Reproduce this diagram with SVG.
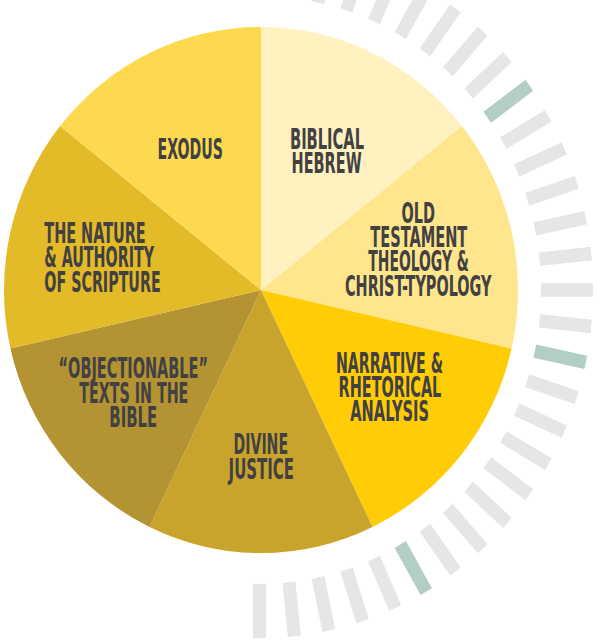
<svg xmlns="http://www.w3.org/2000/svg" width="600" height="640" viewBox="0 0 600 640">
<style>
.lbl{font-family:"Liberation Sans Narrow","DejaVu Sans Condensed","Liberation Sans",sans-serif;font-weight:bold;font-size:28px;fill:#414042}
.tk{fill:#E5E6E7}
.tt{fill:#B2CEC6}
</style>
<defs>
<rect id="tick" x="281.5" y="-6.5" width="52" height="13"/>
</defs>
<rect width="600" height="640" fill="#FFFFFF"/>
<g id="ticks" transform="translate(259.5,290) scale(1,1.044)">
<use href="#tick" class="tk" transform="rotate(-78)"/>
<use href="#tick" class="tk" transform="rotate(-72)"/>
<use href="#tick" class="tk" transform="rotate(-66)"/>
<use href="#tick" class="tk" transform="rotate(-60)"/>
<use href="#tick" class="tk" transform="rotate(-54)"/>
<use href="#tick" class="tk" transform="rotate(-48)"/>
<use href="#tick" class="tk" transform="rotate(-42)"/>
<use href="#tick" class="tt" transform="rotate(-36)"/>
<use href="#tick" class="tk" transform="rotate(-30)"/>
<use href="#tick" class="tk" transform="rotate(-24)"/>
<use href="#tick" class="tk" transform="rotate(-18)"/>
<use href="#tick" class="tk" transform="rotate(-12)"/>
<use href="#tick" class="tk" transform="rotate(-6)"/>
<use href="#tick" class="tk" transform="rotate(0)"/>
<use href="#tick" class="tk" transform="rotate(6)"/>
<use href="#tick" class="tt" transform="rotate(12)"/>
<use href="#tick" class="tk" transform="rotate(18)"/>
<use href="#tick" class="tk" transform="rotate(24)"/>
<use href="#tick" class="tk" transform="rotate(30)"/>
<use href="#tick" class="tk" transform="rotate(36)"/>
<use href="#tick" class="tk" transform="rotate(42)"/>
<use href="#tick" class="tk" transform="rotate(48)"/>
<use href="#tick" class="tk" transform="rotate(54)"/>
<use href="#tick" class="tt" transform="rotate(60)"/>
<use href="#tick" class="tk" transform="rotate(66)"/>
<use href="#tick" class="tk" transform="rotate(72)"/>
<use href="#tick" class="tk" transform="rotate(78)"/>
<use href="#tick" class="tk" transform="rotate(84)"/>
<use href="#tick" class="tk" transform="rotate(90)"/>
</g>
<g id="pie" transform="translate(261,290) scale(1,1.0233)">
<path id="s-hebrew" d="M0,0 L0,-257 A257,257 0 0,1 200.93,-160.24 Z" fill="#FFF2C0"/>
<path id="s-ot" d="M0,0 L200.93,-160.24 A257,257 0 0,1 250.56,57.19 Z" fill="#FFE68C"/>
<path id="s-narrative" d="M0,0 L250.56,57.19 A257,257 0 0,1 111.51,231.55 Z" fill="#FFCC06"/>
<path id="s-justice" d="M0,0 L111.51,231.55 A257,257 0 0,1 -111.51,231.55 Z" fill="#C9A42D"/>
<path id="s-objectionable" d="M0,0 L-111.51,231.55 A257,257 0 0,1 -250.56,57.19 Z" fill="#B39332"/>
<path id="s-nature" d="M0,0 L-250.56,57.19 A257,257 0 0,1 -200.93,-160.24 Z" fill="#E3BA27"/>
<path id="s-exodus" d="M0,0 L-200.93,-160.24 A257,257 0 0,1 0,-257 Z" fill="#FDD94F"/>
</g>
<g id="node-hebrew">
<text class="lbl"><tspan x="290" y="149" textLength="74" lengthAdjust="spacingAndGlyphs">BIBLICAL</tspan><tspan x="291.6" y="173.3" textLength="70" lengthAdjust="spacingAndGlyphs">HEBREW</tspan></text>
</g>
<g id="node-ot">
<text class="lbl"><tspan x="401.6" y="222.7" textLength="33.4" lengthAdjust="spacingAndGlyphs">OLD</tspan><tspan x="370.3" y="247.3" textLength="97" lengthAdjust="spacingAndGlyphs">TESTAMENT</tspan><tspan x="368.3" y="270.7" textLength="100.6" lengthAdjust="spacingAndGlyphs">THEOLOGY &amp;</tspan><tspan x="345" y="295.7" textLength="146.4" lengthAdjust="spacingAndGlyphs">CHRIST-TYPOLOGY</tspan></text>
</g>
<g id="node-narrative">
<text class="lbl"><tspan x="336" y="372.7" textLength="107" lengthAdjust="spacingAndGlyphs">NARRATIVE &amp;</tspan><tspan x="338.6" y="396.7" textLength="102.7" lengthAdjust="spacingAndGlyphs">RHETORICAL</tspan><tspan x="350.3" y="421" textLength="78.7" lengthAdjust="spacingAndGlyphs">ANALYSIS</tspan></text>
</g>
<g id="node-justice">
<text class="lbl"><tspan x="233.6" y="454" textLength="54.4" lengthAdjust="spacingAndGlyphs">DIVINE</tspan><tspan x="228.6" y="479" textLength="65.4" lengthAdjust="spacingAndGlyphs">JUSTICE</tspan></text>
</g>
<g id="node-objectionable">
<text class="lbl"><tspan x="58.6" y="378.3" textLength="149.4" lengthAdjust="spacingAndGlyphs">“OBJECTIONABLE”</tspan><tspan x="79.3" y="402.7" textLength="109" lengthAdjust="spacingAndGlyphs">TEXTS IN THE</tspan><tspan x="109.3" y="426.7" textLength="48" lengthAdjust="spacingAndGlyphs">BIBLE</tspan></text>
</g>
<g id="node-nature">
<text class="lbl"><tspan x="44.3" y="243.3" textLength="101.4" lengthAdjust="spacingAndGlyphs">THE NATURE</tspan><tspan x="44.3" y="267.3" textLength="109.7" lengthAdjust="spacingAndGlyphs">&amp; AUTHORITY</tspan><tspan x="44.3" y="291.7" textLength="116.4" lengthAdjust="spacingAndGlyphs">OF SCRIPTURE</tspan></text>
</g>
<g id="node-exodus">
<text class="lbl" x="157.6" y="159" textLength="65.4" lengthAdjust="spacingAndGlyphs">EXODUS</text>
</g>
<g id="connectors"/>
</svg>
